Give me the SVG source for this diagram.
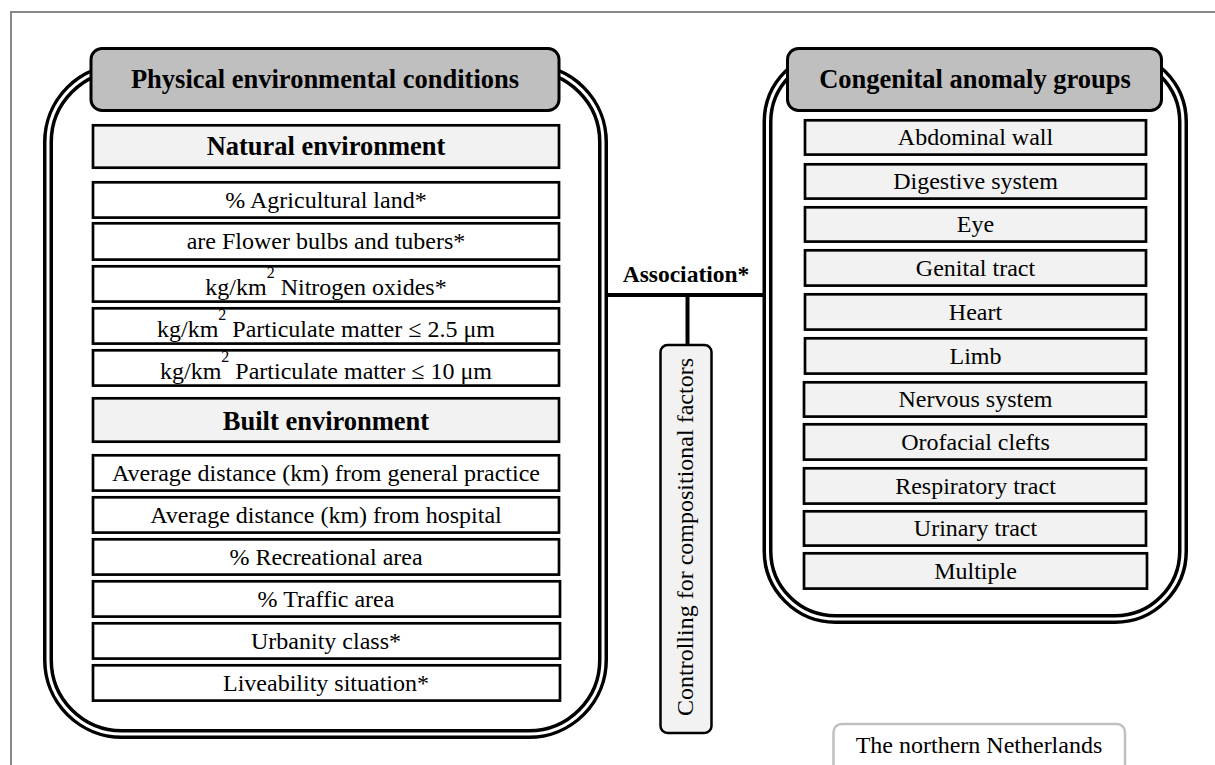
<svg xmlns="http://www.w3.org/2000/svg" width="1215" height="765" viewBox="0 0 1215 765">
<style>
text{font-family:"Liberation Serif","Times New Roman",serif;fill:#000;text-anchor:middle}
.t{font-size:24px}
.b{font-size:26.5px;font-weight:bold}
.sup{font-size:16px}
.hdr{fill:#bfbfbf;stroke:#000;stroke-width:3}
.lt{fill:#f2f2f2;stroke:#000;stroke-width:2.7}
.wt{fill:#fff;stroke:#000;stroke-width:2.7}
.dbo{fill:none;stroke:#000;stroke-width:10}
.dbi{fill:none;stroke:#fff;stroke-width:3}
.con{stroke:#000;stroke-width:4;fill:none}
</style>
<rect width="1215" height="765" fill="#fff"/>
<path d="M11,765 V12 H1215" fill="none" stroke="#888" stroke-width="2"/>
<g id="connectors">
<line class="con" x1="605" y1="295" x2="765" y2="295"/>
<line class="con" x1="687.5" y1="295" x2="687.5" y2="346"/>
</g>
<g id="physical">
<rect class="dbo" x="48" y="68" width="555" height="666" rx="74"/>
<rect class="dbi" x="48" y="68" width="555" height="666" rx="74"/>
<rect class="hdr" x="91" y="48.5" width="468" height="62" rx="11"/>
<text class="b" x="325" y="88">Physical environmental conditions</text>
</g>
<g id="natural">
<rect class="lt" x="93" y="125.3" width="466" height="42.4"/>
<text class="b" x="326" y="155">Natural environment</text>
</g>
<g id="agri"><rect class="wt" x="93" y="182.3" width="466" height="35.3"/><text class="t" x="326" y="207.5">% Agricultural land*</text></g>
<g id="flower"><rect class="wt" x="93" y="223.3" width="466" height="36.3"/><text class="t" x="326" y="249">are Flower bulbs and tubers*</text></g>
<g id="nox"><rect class="wt" x="93" y="266.3" width="466" height="35.3"/><text class="t" x="326" y="295">kg/km<tspan class="sup" dy="-17">2</tspan><tspan dy="17"> Nitrogen oxides*</tspan></text></g>
<g id="pm25"><rect class="wt" x="93" y="308.3" width="466" height="35.3"/><text class="t" x="326" y="337">kg/km<tspan class="sup" dy="-17">2</tspan><tspan dy="17"> Particulate matter ≤ 2.5 μm</tspan></text></g>
<g id="pm10"><rect class="wt" x="93" y="350.3" width="466" height="35.3"/><text class="t" x="326" y="379">kg/km<tspan class="sup" dy="-17">2</tspan><tspan dy="17"> Particulate matter ≤ 10 μm</tspan></text></g>
<g id="built">
<rect class="lt" x="93" y="398.3" width="466" height="43.4"/>
<text class="b" x="326" y="430">Built environment</text>
</g>
<g id="gp"><rect class="wt" x="93" y="455.3" width="466" height="35.3"/><text class="t" x="326" y="480.5">Average distance (km) from general practice</text></g>
<g id="hosp"><rect class="wt" x="93" y="497.3" width="466" height="35.3"/><text class="t" x="326" y="522.5">Average distance (km) from hospital</text></g>
<g id="recr"><rect class="wt" x="93" y="539.3" width="466" height="35.3"/><text class="t" x="326" y="564.5">% Recreational area</text></g>
<g id="traffic"><rect class="wt" x="93" y="581.3" width="467" height="35.3"/><text class="t" x="326" y="606.5">% Traffic area</text></g>
<g id="urban"><rect class="wt" x="93" y="623.3" width="467" height="35.3"/><text class="t" x="326" y="648.5">Urbanity class*</text></g>
<g id="live"><rect class="wt" x="93" y="665.3" width="467" height="35.3"/><text class="t" x="326" y="690.5">Liveability situation*</text></g>
<g id="association"><text x="686" y="282" style="font-size:23.5px;font-weight:bold">Association*</text></g>
<g id="controlling">
<rect x="660.5" y="345" width="51" height="388" rx="7" fill="#f2f2f2" stroke="#000" stroke-width="2.5"/>
<text class="t" transform="translate(693,537) rotate(-90)">Controlling for compositional factors</text>
</g>
<g id="congenital">
<rect class="dbo" x="767.5" y="54" width="415.5" height="565" rx="68"/>
<rect class="dbi" x="767.5" y="54" width="415.5" height="565" rx="68"/>
<rect class="hdr" x="787.5" y="48.5" width="374" height="62" rx="11"/>
<text class="b" x="975" y="88">Congenital anomaly groups</text>
</g>
<g id="abdominal"><rect class="lt" x="805" y="120.3" width="341" height="34.3"/><text class="t" x="975.5" y="145">Abdominal wall</text></g>
<g id="digestive"><rect class="lt" x="805" y="164.3" width="341" height="34.3"/><text class="t" x="975.5" y="189">Digestive system</text></g>
<g id="eye"><rect class="lt" x="805" y="207.3" width="341" height="34.3"/><text class="t" x="975.5" y="232">Eye</text></g>
<g id="genital"><rect class="lt" x="805" y="250.3" width="341" height="35.3"/><text class="t" x="975.5" y="275.5">Genital tract</text></g>
<g id="heart"><rect class="lt" x="805" y="294.3" width="341" height="35.3"/><text class="t" x="975.5" y="319.5">Heart</text></g>
<g id="limb"><rect class="lt" x="805" y="338.3" width="341" height="35.3"/><text class="t" x="975.5" y="363.5">Limb</text></g>
<g id="nervous"><rect class="lt" x="804" y="382.3" width="342" height="34.3"/><text class="t" x="975.5" y="407">Nervous system</text></g>
<g id="orofacial"><rect class="lt" x="804" y="424.3" width="342" height="35.3"/><text class="t" x="975.5" y="449.5">Orofacial clefts</text></g>
<g id="respiratory"><rect class="lt" x="804" y="468.3" width="342" height="35.3"/><text class="t" x="975.5" y="493.5">Respiratory tract</text></g>
<g id="urinary"><rect class="lt" x="804" y="511.3" width="342" height="34.3"/><text class="t" x="975.5" y="536">Urinary tract</text></g>
<g id="multiple"><rect class="lt" x="804" y="553.3" width="343" height="35.3"/><text class="t" x="975.5" y="578.5">Multiple</text></g>
<g id="region">
<rect x="833.5" y="724" width="291.5" height="80" rx="8" fill="#fff" stroke="#c0c0c0" stroke-width="2.5"/>
<text class="t" x="979" y="753">The northern Netherlands</text>
</g>
</svg>
